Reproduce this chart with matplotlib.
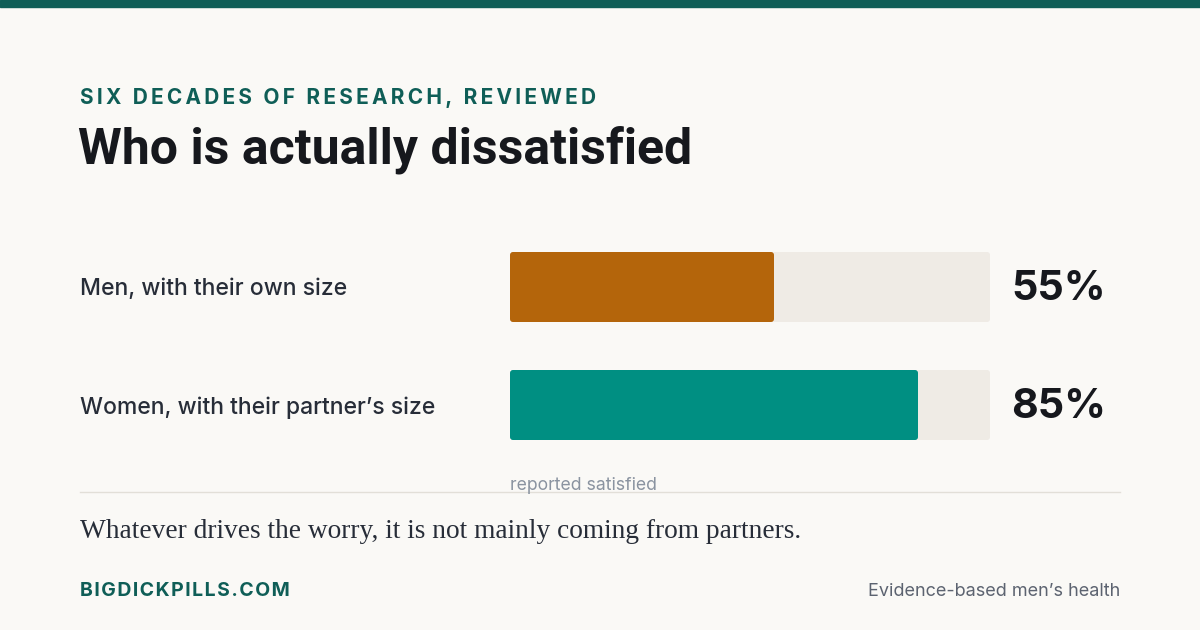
import matplotlib
matplotlib.use("Agg")
import matplotlib.pyplot as plt
from matplotlib.patches import FancyBboxPatch
from matplotlib.transforms import blended_transform_factory

categories = ["Men, with their own size", "Women, with their partner\u2019s size"]
values = [55, 85]
value_labels = ["55%", "85%"]
bar_colors = ["#b4650b", "#008f82"]
kicker = "SIX DECADES OF RESEARCH, REVIEWED"
title = "Who is actually dissatisfied"
axis_note = "reported satisfied"
takeaway = "Whatever drives the worry, it is not mainly coming from partners."
brand = "BIGDICKPILLS.COM"
tagline = "Evidence-based men\u2019s health"

W, H = 1200, 630
BG = "#faf9f6"
TEAL_DARK = "#0f5e57"
SANS = ["Inter", "DejaVu Sans"]
NARROW = ["Roboto", "DejaVu Sans"]

fig = plt.figure(figsize=(W / 100, H / 100), dpi=100, facecolor=BG)

def fx(px):
    return px / W

def fy(py):
    return 1 - py / H

def tracked(s, sep):
    return sep.join(s)

# top band
fig.patches.append(plt.Rectangle((0, fy(7)), 1, 7 / H, transform=fig.transFigure,
                                 color=TEAL_DARK, zorder=0))

fig.text(fx(80), fy(104), tracked(kicker, "\u2009"), fontsize=15, fontweight="bold",
         color=TEAL_DARK, family=SANS, ha="left", va="baseline")
fig.text(fx(78), fy(163), title, fontsize=36, fontweight="bold", color="#16181d",
         family=NARROW, ha="left", va="baseline")

# bars axes
top_px, bot_px = 252, 440
track_w_px = 480
ax = fig.add_axes([fx(510), fy(bot_px), track_w_px / W, (bot_px - top_px) / H])
ax.set_facecolor("none")
bar_h = 70 / 118
pad = bar_h / 2
ypos = list(range(len(categories)))
tracks = ax.barh(ypos, [100] * len(values), height=bar_h, color="#efebe5", zorder=1)
fills = ax.barh(ypos, values, height=bar_h, color=bar_colors, zorder=2)
ax.set_xlim(0, 100)
ax.set_ylim(len(categories) - 1 + pad, -pad)
ax.axis("off")

# round the bar corners slightly (3 px)
x_per_px = 100 / track_w_px
y_per_px = (len(categories) - 1 + 2 * pad) / (bot_px - top_px)
for bar in list(tracks) + list(fills):
    bar.set_visible(False)
    fb = FancyBboxPatch((bar.get_x(), bar.get_y()), bar.get_width(), bar.get_height(),
                        boxstyle=f"round,pad=0,rounding_size={3 * x_per_px}",
                        mutation_aspect=y_per_px / x_per_px,
                        facecolor=bar.get_facecolor(), edgecolor="none",
                        zorder=bar.get_zorder())
    ax.add_patch(fb)

tr = blended_transform_factory(fig.transFigure, ax.transData)
for i, (cat, lab) in enumerate(zip(categories, value_labels)):
    ax.text(fx(80), i + 0.02, cat, transform=tr, fontsize=16.5, fontweight="medium",
            color="#272d38", family=SANS, ha="left", va="center")
    ax.text(fx(1011), i + 0.02, lab, transform=tr, fontsize=29.7, fontweight="bold",
            color="#16181d", family=SANS, ha="left", va="center")

fig.text(fx(510), fy(490), axis_note, fontsize=12.7, color="#8a93a0", family=SANS,
         ha="left", va="baseline")

fig.add_artist(plt.Line2D([fx(80), fx(1120)], [fy(492), fy(492)], transform=fig.transFigure,
                          color="#e2dfd8", lw=1))

fig.text(fx(80), fy(538), takeaway, fontsize=19.7, color="#272d38",
         family=["Liberation Serif", "DejaVu Serif"], ha="left", va="baseline")

fig.text(fx(80), fy(596), tracked(brand, "\u200a"), fontsize=14, fontweight="bold",
         color=TEAL_DARK, family=SANS, ha="left", va="baseline")
fig.text(fx(1120), fy(596), tagline, fontsize=13, color="#5c6370", family=SANS,
         ha="right", va="baseline")

fig.savefig("out.png", dpi=100, facecolor=BG)
